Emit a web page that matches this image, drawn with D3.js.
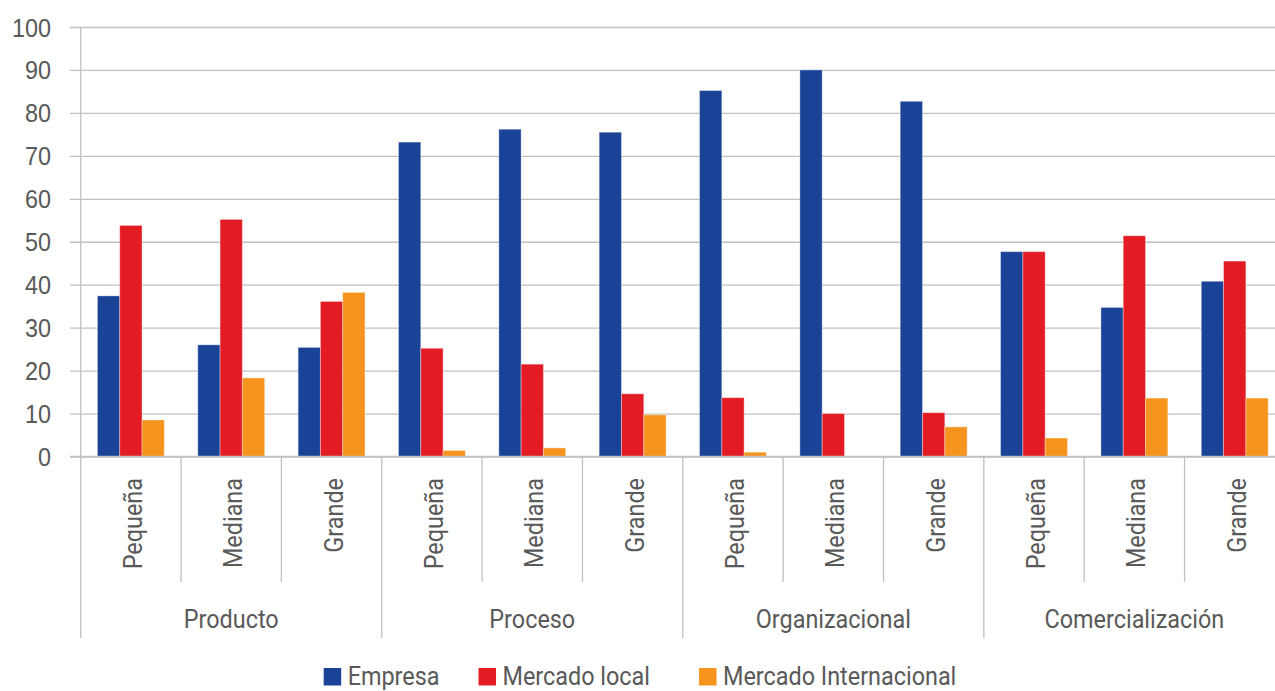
<!DOCTYPE html>
<html lang="es">
<head>
<meta charset="utf-8">
<script src="https://cdn.jsdelivr.net/npm/d3@7"></script>
<style>
  html, body { margin: 0; padding: 0; background: #fff; }
  svg { display: block; font-family: Roboto, "Noto Sans", sans-serif; }
</style>
</head>
<body>
<svg id="chart" width="1275" height="691"></svg>
<script>
// Tipos de innovación y tamaño de empresa
const groups = ["Producto", "Proceso", "Organizacional", "Comercialización"];
const sizes = ["Pequeña", "Mediana", "Grande"];
const series = ["Empresa", "Mercado local", "Mercado Internacional"];

// Porcentajes por grupo y tamaño (Pequeña, Mediana, Grande)
const empresa = [37.4, 26.0, 25.4, 73.2, 76.2, 75.5, 85.2, 90.0, 82.7, 47.7, 34.7, 40.8];
const mercadoLocal = [53.8, 55.2, 36.1, 25.2, 21.5, 14.6, 13.7, 10.0, 10.2, 47.7, 51.4, 45.5];
const mercadoInternacional = [8.5, 18.3, 38.2, 1.4, 2.0, 9.7, 1.0, 0, 6.9, 4.3, 13.6, 13.6];

const yTicks = [0, 10, 20, 30, 40, 50, 60, 70, 80, 90, 100];
const colors = ["#1a4397", "#e31c24", "#f7941e"];

const values = [empresa, mercadoLocal, mercadoInternacional];
const cats = groups.flatMap((g, gi) => sizes.map((s, si) => ({ key: gi + "-" + si, group: g, size: s, idx: gi * sizes.length + si })));

const svg = d3.select("#chart");
const TEXT = "#595959";
const GRID = "#c0c0c0";
const SX = 0.9; // narrow letterforms

const left = 80.7, bandW = 100.35;
const yZero = 456.5, yTop = 27;
const right = left + bandW * cats.length;

const x = d3.scaleBand().domain(cats.map(d => d.key)).range([left, right]).padding(0);
const x1 = d3.scaleBand().domain(series).range([x.bandwidth() / 6, x.bandwidth() * 5 / 6]).padding(0);
const y = d3.scaleLinear().domain([0, 100]).range([yZero, yTop]);

// gridlines + y axis labels
const gridG = svg.append("g").attr("transform", `translate(${left},0)`);
gridG.call(d3.axisLeft(y).tickValues(yTicks).tickSize(-(1275 - left)).tickFormat(""))
  .call(g => g.select(".domain").remove())
  .call(g => g.selectAll("line").attr("stroke", GRID).attr("stroke-width", 1.3).attr("x1", -10.7));

const yAxis = svg.append("g").attr("transform", `translate(${left},0)`);
yAxis.call(d3.axisLeft(y).tickValues(yTicks).tickSize(0).tickFormat(d3.format("d")))
  .call(g => g.select(".domain").remove())
  .call(g => g.selectAll("text")
    .attr("x", null).attr("dy", null)
    .attr("transform", `translate(-29.7,9) scale(${SX},1)`)
    .attr("text-anchor", "end")
    .attr("fill", TEXT)
    .style("font-size", "26px"));

// bars
const barG = svg.append("g");
series.forEach((s, si) => {
  barG.append("g").selectAll("rect")
    .data(cats)
    .join("rect")
    .attr("x", d => x(d.key) + x1(s))
    .attr("width", x1.bandwidth())
    .attr("y", d => y(values[si][d.idx]))
    .attr("height", d => yZero - y(values[si][d.idx]))
    .attr("fill", colors[si])
    .attr("stroke", "rgba(255,255,255,0.35)")
    .attr("stroke-width", 1);
});

// axis lines
const axG = svg.append("g").attr("stroke", GRID).attr("stroke-width", 1.3);
axG.append("line").attr("x1", left).attr("x2", left).attr("y1", yTop).attr("y2", 638);
axG.append("line").attr("x1", 70).attr("x2", 1275).attr("y1", yZero).attr("y2", yZero);
cats.forEach((d, i) => {
  if (i === 0) return;
  const isGroup = i % sizes.length === 0;
  axG.append("line")
    .attr("x1", x(d.key)).attr("x2", x(d.key))
    .attr("y1", yZero).attr("y2", isGroup ? 638 : 582);
});

// size labels (rotated)
svg.append("g").selectAll("text")
  .data(cats)
  .join("text")
  .attr("transform", d => `translate(${x(d.key) + x.bandwidth() / 2 + 11},478) rotate(-90) scale(${SX},1)`)
  .attr("text-anchor", "end")
  .attr("fill", TEXT)
  .style("font-size", "26px")
  .text(d => d.size);

// group labels
svg.append("g").selectAll("text")
  .data(groups)
  .join("text")
  .attr("transform", (g, gi) => {
    const a = x(cats[gi * sizes.length].key);
    const b = x(cats[gi * sizes.length + sizes.length - 1].key) + x.bandwidth();
    return `translate(${(a + b) / 2},628) scale(${SX},1)`;
  })
  .attr("text-anchor", "middle")
  .attr("fill", TEXT)
  .style("font-size", "26px")
  .text(g => g);

// legend
const legend = svg.append("g");
const items = series.map((s, i) => {
  const g = legend.append("g");
  g.append("rect").attr("x", 0).attr("y", 668).attr("width", 17.5).attr("height", 17.5).attr("fill", colors[i]);
  const t = g.append("text")
    .attr("transform", `translate(24,685) scale(${SX},1)`)
    .attr("fill", TEXT)
    .style("font-size", "26px")
    .text(s);
  return { g, w: 24 + t.node().getComputedTextLength() * SX };
});
const gaps = [39, 49];
const total = d3.sum(items, d => d.w) + d3.sum(gaps);
let cx = 640 - total / 2;
items.forEach((it, i) => {
  it.g.attr("transform", `translate(${cx},0)`);
  cx += it.w + (gaps[i] || 0);
});
</script>
</body>
</html>
